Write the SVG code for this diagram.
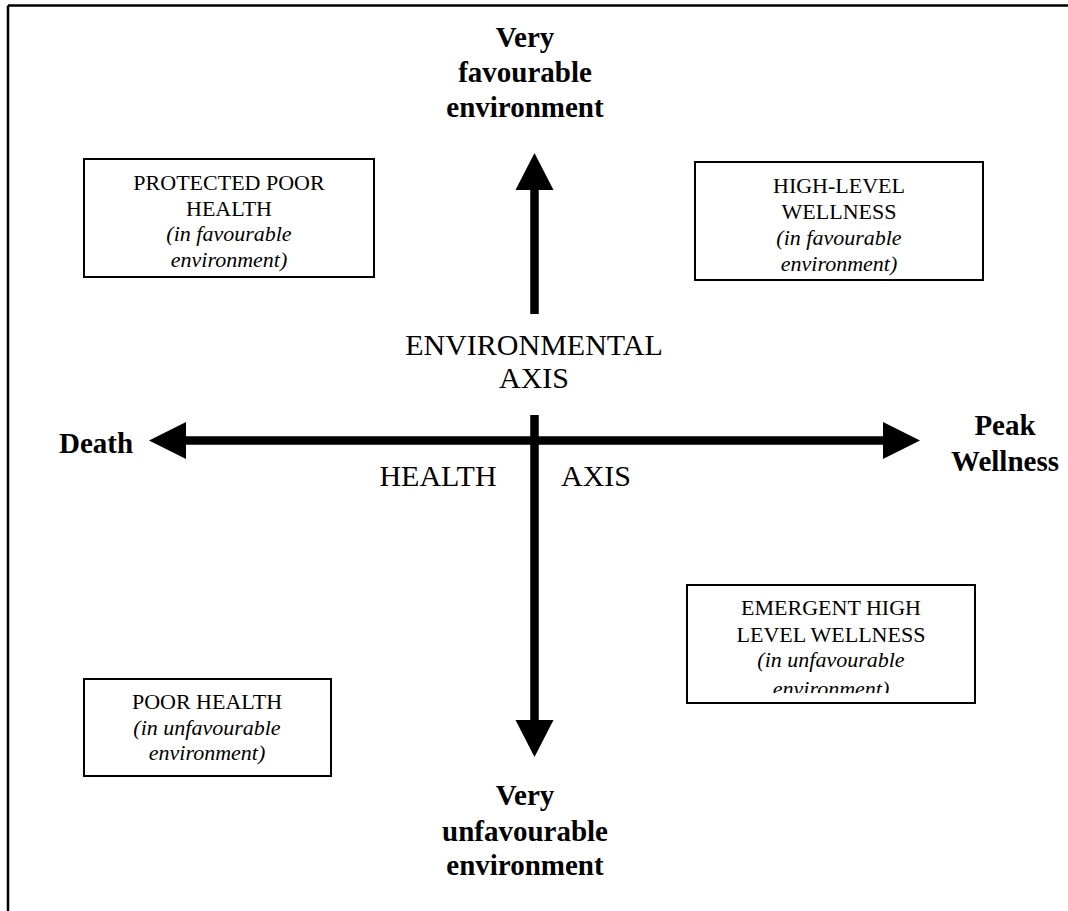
<svg xmlns="http://www.w3.org/2000/svg" width="1068" height="911" viewBox="0 0 1068 911">
<style>
.box{fill:#fff;stroke:#000;stroke-width:2}
.t{font-family:"Liberation Serif","Times New Roman",serif;fill:#000;text-anchor:middle}
.bx{font-size:22px}
.it{font-style:italic}
.ax{font-size:30px}
.bd{font-size:29px;font-weight:bold}
.sh{stroke:#000;stroke-width:8.5;fill:none}
.hd{fill:#000}
</style>
<defs>
<clipPath id="c3"><rect x="687" y="585" width="288" height="108"/></clipPath>
</defs>
<rect width="1068" height="911" fill="#fff"/>
<g id="frame" stroke="#000" stroke-width="2.5" fill="none">
<line x1="8" y1="5.5" x2="1068" y2="5.5"/>
<line x1="8" y1="5.5" x2="8" y2="911"/>
</g>
<g id="connectors">
<line class="sh" x1="534.5" y1="314" x2="534.5" y2="188"/>
<polygon class="hd" points="534.5,153 515.5,190 553.5,190"/>
<line class="sh" x1="534.5" y1="415" x2="534.5" y2="722"/>
<polygon class="hd" points="534.5,757 515.5,720 553.5,720"/>
<line class="sh" x1="184" y1="440.5" x2="885" y2="440.5"/>
<polygon class="hd" points="149,440.5 186,422 186,459"/>
<polygon class="hd" points="920,440.5 883,422 883,459"/>
</g>
<g id="label-top">
<text class="t bd" x="525" y="47">Very</text>
<text class="t bd" x="525" y="82">favourable</text>
<text class="t bd" x="525" y="117">environment</text>
</g>
<g id="label-bottom">
<text class="t bd" x="525" y="805">Very</text>
<text class="t bd" x="525" y="841">unfavourable</text>
<text class="t bd" x="525" y="875">environment</text>
</g>
<g id="label-death">
<text class="t bd" x="96" y="453">Death</text>
</g>
<g id="label-peak">
<text class="t bd" x="1005" y="435">Peak</text>
<text class="t bd" x="1005" y="471">Wellness</text>
</g>
<g id="label-env-axis">
<text class="t ax" x="534" y="355">ENVIRONMENTAL</text>
<text class="t ax" x="534" y="388">AXIS</text>
</g>
<g id="label-health-axis">
<text class="t ax" x="438" y="486">HEALTH</text>
<text class="t ax" x="596" y="486">AXIS</text>
</g>
<g id="box-protected">
<rect class="box" x="84" y="159" width="290" height="118"/>
<text class="t bx" x="229" y="190">PROTECTED POOR</text>
<text class="t bx" x="229" y="216">HEALTH</text>
<text class="t bx it" x="229" y="241">(in favourable</text>
<text class="t bx it" x="229" y="267">environment)</text>
</g>
<g id="box-high">
<rect class="box" x="695" y="162" width="288" height="118"/>
<text class="t bx" x="839" y="193">HIGH-LEVEL</text>
<text class="t bx" x="839" y="219">WELLNESS</text>
<text class="t bx it" x="839" y="245">(in favourable</text>
<text class="t bx it" x="839" y="271">environment)</text>
</g>
<g id="box-emergent">
<rect class="box" x="687" y="585" width="288" height="118"/>
<text class="t bx" x="831" y="615">EMERGENT HIGH</text>
<text class="t bx" x="831" y="642">LEVEL WELLNESS</text>
<text class="t bx it" x="831" y="667">(in unfavourable</text>
<text class="t bx it" x="831" y="696" clip-path="url(#c3)">environment)</text>
</g>
<g id="box-poor">
<rect class="box" x="84" y="679" width="247" height="97"/>
<text class="t bx" x="207" y="709">POOR HEALTH</text>
<text class="t bx it" x="207" y="735">(in unfavourable</text>
<text class="t bx it" x="207" y="760">environment)</text>
</g>
</svg>
